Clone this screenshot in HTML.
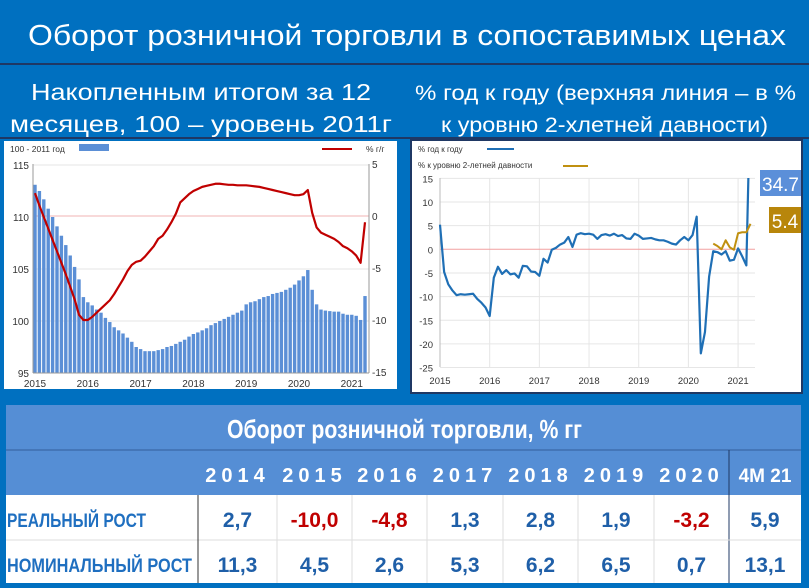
<!DOCTYPE html>
<html><head><meta charset="utf-8"><style>
html,body{margin:0;padding:0;background:#0070c0;}
svg{display:block;font-family:"Liberation Sans","DejaVu Sans",sans-serif;}
</style></head><body>
<svg id="s" width="809" height="588" viewBox="0 0 809 588" xmlns="http://www.w3.org/2000/svg">
<rect x="0" y="0" width="809" height="588" fill="#0070c0"/>
<text x="28" y="45" font-size="29" fill="#fff" textLength="758" lengthAdjust="spacingAndGlyphs">Оборот розничной торговли в сопоставимых ценах</text>
<line x1="0" y1="64" x2="809" y2="64" stroke="#1f3864" stroke-width="2"/>
<text x="31" y="100" font-size="23" fill="#fff" textLength="340" lengthAdjust="spacingAndGlyphs">Накопленным итогом за 12</text>
<text x="10" y="132" font-size="23" fill="#fff" textLength="382" lengthAdjust="spacingAndGlyphs">месяцев, 100 – уровень 2011г</text>
<text x="415" y="100" font-size="21" fill="#fff" textLength="381" lengthAdjust="spacingAndGlyphs">% год к году (верхняя линия – в %</text>
<text x="441" y="132" font-size="21" fill="#fff" textLength="327" lengthAdjust="spacingAndGlyphs">к уровню 2-хлетней давности)</text>
<line x1="0" y1="138" x2="809" y2="138" stroke="#1f3864" stroke-width="2"/>

<rect x="4" y="141" width="393" height="248" fill="#fff"/>
<g id="left"></g>

<rect x="411" y="140" width="391" height="253" fill="#fff" stroke="#1f3864" stroke-width="2"/>
<g id="right"></g>

<g id="table"></g>
</svg>
<script>
const NS="http://www.w3.org/2000/svg";
function mk(parent,tag,attrs,text){const e=document.createElementNS(NS,tag);for(const k in attrs)e.setAttribute(k,attrs[k]);if(text!==undefined)e.textContent=text;parent.appendChild(e);return e;}

// ===== Left chart data =====
const leftYears=["2015","2016","2017","2018","2019","2020","2021"];
const leftTicks=[95,100,105,110,115];
const rightTicks=[-15,-10,-5,0,5];
const indexValues=[113.1,112.5,111.7,110.8,110.0,109.1,108.2,107.3,106.3,105.2,104.0,102.3,
101.8,101.5,101.1,100.8,100.3,99.9,99.4,99.1,98.8,98.4,98.0,97.5,
97.3,97.1,97.1,97.1,97.2,97.3,97.5,97.6,97.8,98.0,98.2,98.5,
98.75,98.9,99.1,99.3,99.6,99.8,100.0,100.2,100.4,100.6,100.8,101.0,
101.6,101.8,101.9,102.1,102.3,102.4,102.6,102.7,102.8,103.0,103.2,103.5,
103.9,104.3,104.9,103.0,101.6,101.1,101.0,100.95,100.9,100.9,100.7,100.6,
100.6,100.5,100.1,102.4];
const yoyValues=[2.2,1.0,-0.1,-1.2,-2.3,-3.4,-4.5,-5.6,-6.8,-8.0,-9.5,-10.0,
-10.0,-9.7,-9.3,-8.9,-8.5,-8.1,-7.5,-6.8,-6.1,-5.3,-4.7,-4.4,
-4.3,-3.9,-3.4,-2.9,-2.2,-1.9,-1.3,-0.6,0.2,1.3,1.7,2.1,
2.4,2.6,2.8,2.9,3.0,3.1,3.1,3.05,3.0,3.0,2.95,2.95,
2.95,2.9,2.85,2.8,2.7,2.6,2.5,2.4,2.3,2.2,2.1,2.0,
2.0,2.1,2.5,0.3,-1.1,-1.6,-1.8,-2.0,-2.2,-2.5,-2.9,-3.1,
-3.4,-3.8,-4.5,-0.6];

const L=document.getElementById('left');
const xL=i=>35+i*4.4;
const yL=v=>321-(v-100)*10.4;
const yLR=v=>216-v*10.4;
// grid
leftTicks.forEach(t=>{
  if(t!==95&&t!==110){const g=mk(L,'line',{x1:33,x2:369,y1:yL(t),y2:yL(t),stroke:'#e6e6e6','stroke-width':1});
  
  }
  const tx=mk(L,'text',{x:29,y:yL(t)+4,'font-size':10,fill:'#333','text-anchor':'end'},String(t));
  
  
});
rightTicks.forEach(t=>{
  const tx=mk(L,'text',{x:372,y:yLR(t)+4,'font-size':10,fill:'#333'},String(t));
  
  
});
const zl=mk(L,'line',{x1:33,x2:369,y1:yLR(0),y2:yLR(0),stroke:'#f2b3b3','stroke-width':1});


indexValues.forEach((v,i)=>{
  const b=mk(L,'rect',{x:xL(i)-1.7,y:yL(v),width:3.4,height:373-yL(v),fill:'#5b8fd6'});
  
  
});
const la=mk(L,'line',{x1:33,x2:33,y1:164,y2:373,stroke:'#999'});


const ra=mk(L,'line',{x1:369,x2:369,y1:164,y2:373,stroke:'#999'});


const xa=mk(L,'line',{x1:33,x2:369,y1:373,y2:373,stroke:'#999'});


const lp=mk(L,'polyline',{points:yoyValues.map((v,i)=>xL(i)+','+yLR(v)).join(' '),fill:'none',stroke:'#c00000','stroke-width':2.2,'stroke-linejoin':'round'});


leftYears.forEach((y,k)=>{
  const tx=mk(L,'text',{x:xL(k*12),y:387,'font-size':10,fill:'#333','text-anchor':'middle'},y);
  
  
});
const lg1=mk(L,'text',{x:10,y:152,'font-size':8.5,fill:'#333'},'100 - 2011 год');


const lg2=mk(L,'rect',{x:79,y:144,width:30,height:7,fill:'#5b8fd6'});


const lg3=mk(L,'line',{x1:322,x2:352,y1:149,y2:149,stroke:'#c00000','stroke-width':2});


const lg4=mk(L,'text',{x:366,y:152,'font-size':8.5,fill:'#333'},'%  г/г');



// ===== Right chart data =====
const rYears=["2015","2016","2017","2018","2019","2020","2021"];
const rTicks=[-25,-20,-15,-10,-5,0,5,10,15];
const yoyMonthly=[5.2,-4.8,-7.4,-8.7,-9.7,-9.5,-9.6,-9.5,-9.4,-10.5,-11.3,-12.3,
-14.1,-6.0,-3.7,-5.2,-4.4,-5.3,-5.1,-6.0,-3.5,-3.6,-4.7,-4.8,
-5.6,-2.0,-2.8,-0.1,0.3,1.0,1.4,2.6,0.5,3.1,3.4,3.2,
3.3,3.1,2.2,3.0,3.2,2.9,3.3,2.8,3.0,2.3,2.2,3.3,
2.9,2.2,2.3,2.4,2.1,1.9,1.9,1.6,1.2,1.0,1.9,2.6,
1.9,3.0,6.9,-22.0,-17.5,-5.8,-0.4,-0.6,-1.1,-0.4,-2.4,-2.2,
0.2,-1.5,-3.4,34.7];
const twoYearStart=66;
const twoYearValues=[1.2,0.7,0.0,1.9,0.4,-0.1,3.4,3.6,3.6,5.4];

const R=document.getElementById('right');
const xR=i=>440+i*4.14;
const yR=v=>249.3-v*4.73;
rYears.forEach((y,k)=>{
  const g=mk(R,'line',{x1:xR(k*12),x2:xR(k*12),y1:178,y2:367,stroke:'#e6e6e6'});
  
  
  const tx=mk(R,'text',{x:xR(k*12),y:384,'font-size':9.5,fill:'#333','text-anchor':'middle'},y);
  
  
});
rTicks.forEach(t=>{
  const g=mk(R,'line',{x1:440,x2:755,y1:yR(t),y2:yR(t),stroke:t===0?'#f2a0a0':'#e6e6e6'});
  
  
  const tx=mk(R,'text',{x:433,y:yR(t)+4,'font-size':9.5,fill:'#333','text-anchor':'end'},String(t));
  
  
});
const cp=mk(R,'clipPath',{id:'rc'});mk(cp,'rect',{x:436,y:178,width:325,height:192});
const ya=mk(R,'line',{x1:440,x2:440,y1:178,y2:367,stroke:'#bbb'});


const bl=mk(R,'polyline',{points:yoyMonthly.map((v,i)=>xR(i)+','+yR(v)).join(' '),fill:'none',stroke:'#1f6fb5','stroke-width':2.2,'stroke-linejoin':'round','clip-path':'url(#rc)'});


const gl=mk(R,'polyline',{points:twoYearValues.map((v,i)=>xR(twoYearStart+i)+','+yR(v)).join(' '),fill:'none',stroke:'#c09010','stroke-width':2,'stroke-linejoin':'round'});


const r1=mk(R,'text',{x:418,y:152,'font-size':8,fill:'#333'},'% год к году');


const r2=mk(R,'line',{x1:487,x2:514,y1:149,y2:149,stroke:'#1f6fb5','stroke-width':2});


const r3=mk(R,'text',{x:418,y:168,'font-size':8,fill:'#333'},'% к уровню 2-летней давности');


const r4=mk(R,'line',{x1:563,x2:588,y1:166,y2:166,stroke:'#c09010','stroke-width':2});


const b1=mk(R,'rect',{x:760,y:170,width:41,height:26,fill:'#5b8fd9'});


const t1=mk(R,'text',{x:780.5,y:191,'font-size':19,fill:'#fff','text-anchor':'middle'},String(yoyMonthly[yoyMonthly.length-1]));


const b2=mk(R,'rect',{x:769,y:207,width:32,height:26,fill:'#b8860b'});


const t2=mk(R,'text',{x:785,y:228,'font-size':19,fill:'#fff','text-anchor':'middle'},String(twoYearValues[twoYearValues.length-1]));



// ===== Table =====
const T=document.getElementById('table');
const tYears=["2014","2015","2016","2017","2018","2019","2020","4M 21"];
const realGrowth=["2,7","-10,0","-4,8","1,3","2,8","1,9","-3,2","5,9"];
const nominalGrowth=["11,3","4,5","2,6","5,3","6,2","6,5","0,7","13,1"];
const colEdges=[198,277,352,427,503,578,654,729,801];
const hb=mk(T,'rect',{x:6,y:405,width:795,height:90,fill:'#558ed5'});


const hl=mk(T,'line',{x1:6,x2:801,y1:450,y2:450,stroke:'#3f6fae','stroke-width':1.5});


const wb=mk(T,'rect',{x:6,y:495,width:795,height:88,fill:'#fff'});


const ht=mk(T,'text',{x:227,y:438,'font-size':26,fill:'#fff','font-weight':'bold',textLength:355,lengthAdjust:'spacingAndGlyphs'},'Оборот розничной торговли, % гг');


const dv=mk(T,'line',{x1:729,x2:729,y1:450,y2:583,stroke:'#1f3864','stroke-width':1});


const rowLine=mk(T,'line',{x1:6,x2:801,y1:540,y2:540,stroke:'#ddd'});


const lcol=mk(T,'line',{x1:198,x2:198,y1:495,y2:583,stroke:'#333'});


for(let c=1;c<colEdges.length-2;c++){
  const l=mk(T,'line',{x1:colEdges[c],x2:colEdges[c],y1:495,y2:583,stroke:'#ddd'});
  
  
}
tYears.forEach((y,c)=>{
  const cx=(colEdges[c]+colEdges[c+1])/2;
  const last=c===tYears.length-1;
  const tx=mk(T,'text',{x:cx,y:482,'font-size':last?19:20,fill:'#fff','font-weight':'bold','text-anchor':'middle','letter-spacing':last?0:5},y);
  
  
  const v1=realGrowth[c];
  const a=mk(T,'text',{x:cx,y:527,'font-size':21,fill:v1.startsWith('-')?'#c00000':'#1f5fa8','font-weight':'bold','text-anchor':'middle'},v1);
  
  
  const b=mk(T,'text',{x:cx,y:572,'font-size':21,fill:'#1f5fa8','font-weight':'bold','text-anchor':'middle'},nominalGrowth[c]);
  
  
});
const lr=mk(T,'text',{x:7,y:527,'font-size':19,fill:'#1f6fc0','font-weight':'bold',textLength:139,lengthAdjust:'spacingAndGlyphs'},'РЕАЛЬНЫЙ РОСТ');


const ln=mk(T,'text',{x:7,y:572,'font-size':19,fill:'#1f6fc0','font-weight':'bold',textLength:185,lengthAdjust:'spacingAndGlyphs'},'НОМИНАЛЬНЫЙ РОСТ');


</script>
</body></html>
